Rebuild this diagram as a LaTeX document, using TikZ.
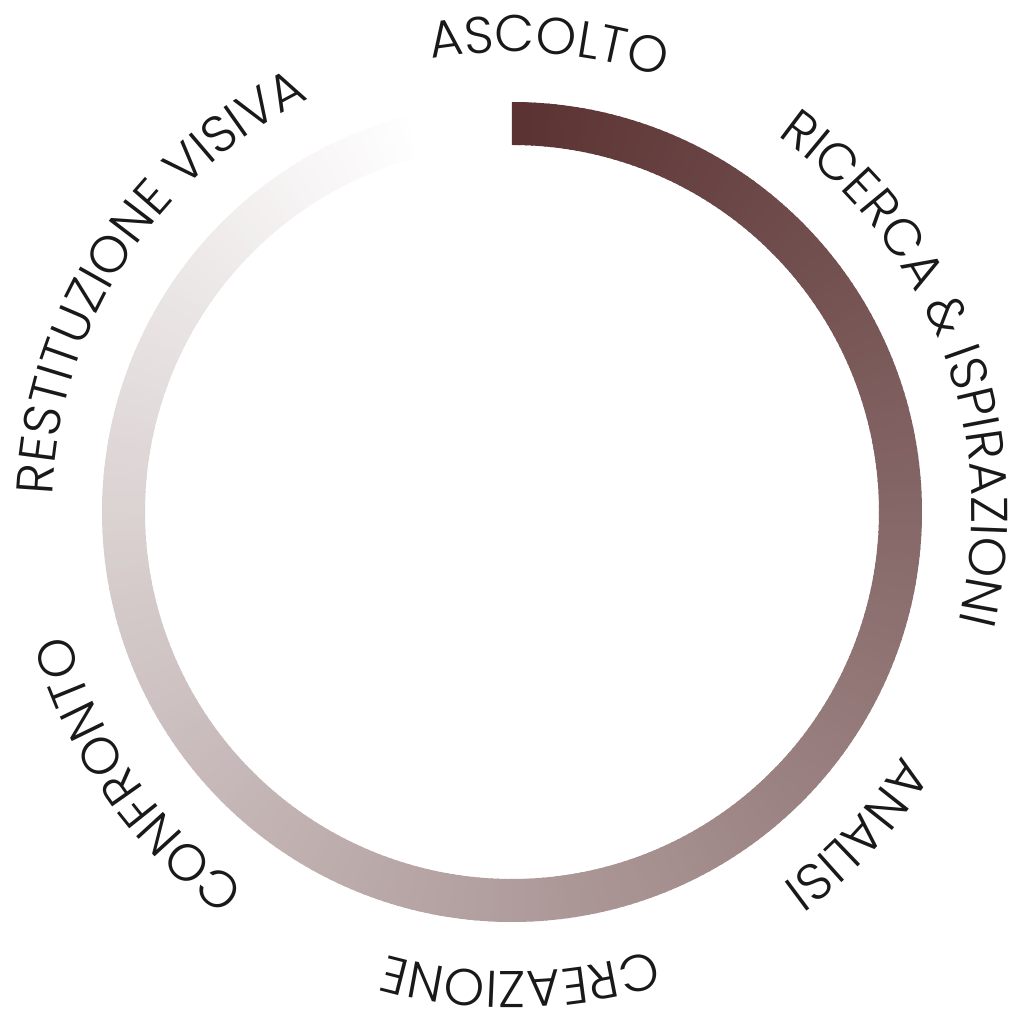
\documentclass[tikz,border=0pt]{standalone}
\usepackage{fontspec}
\newfontfamily\fonteanello{Poppins Light}
\usetikzlibrary{decorations.text}
\definecolor{anello}{RGB}{91,50,50}
\def\fonteetichetta{\fonteanello\fontsize{14.7pt}{17pt}\selectfont}
\tikzset{etichetta/.style={decorate,decoration={text along path,text align=center,text color=black!90}}}
\begin{document}
\begin{tikzpicture}[x=0.01cm,y=0.01cm]
			\def\ro{410} % raggio esterno dell'anello
			\def\ri{367} % raggio interno
			\def\R{460} % raggio delle scritte
			\useasboundingbox (-512,-512) rectangle (512,512);
			\coordinate (O) at (0,0);
			\foreach \i in {0,...,345}{
				\pgfmathsetmacro{\p}{100-\i/345.4*100}
				\fill[anello!\p!white] (90-\i:\ro) arc[start angle=90-\i, end angle=88.7-\i, radius=\ro] -- (88.7-\i:\ri) arc[start angle=88.7-\i, end angle=90-\i, radius=\ri] -- cycle;
			}
			\path[etichetta,decoration={text={|\fonteetichetta|ASCOLTO}}] (110.5:\R) arc[start angle=110.5, end angle=60.5, radius=\R];
			\path[etichetta,decoration={text={|\fonteetichetta|RICERCA {\&} ISPIRAZIONI}}] (60.5:\R) arc[start angle=60.5, end angle=-19.5, radius=\R];
			\path[etichetta,decoration={text={|\fonteetichetta|ANALISI}}] (-18:\R) arc[start angle=-18, end angle=-68, radius=\R];
			\path[etichetta,decoration={text={|\fonteetichetta|CREAZIONE}}] (-64:\R) arc[start angle=-64, end angle=-114, radius=\R];
			\path[etichetta,decoration={text={|\fonteetichetta|CONFRONTO}}] (-120:\R) arc[start angle=-120, end angle=-170, radius=\R];
			\path[etichetta,decoration={text={|\fonteetichetta|RESTITUZIONE VISIVA}}] (187:\R) arc[start angle=187, end angle=107, radius=\R];
\end{tikzpicture}
\end{document}
